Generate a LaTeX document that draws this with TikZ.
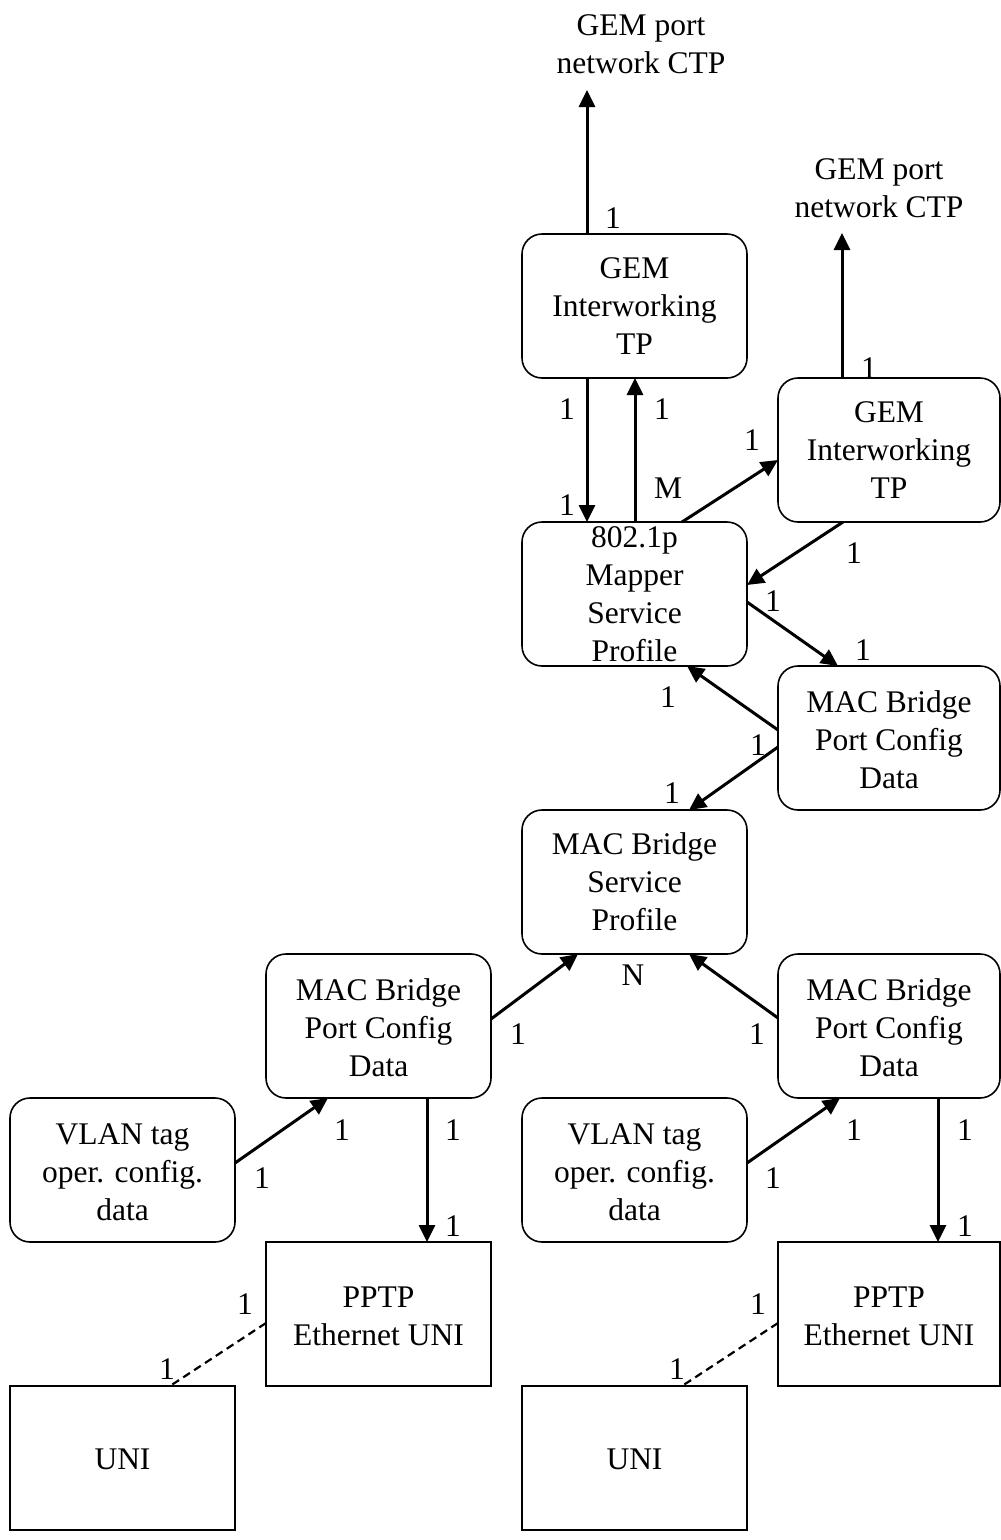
\documentclass[tikz,border=0pt]{standalone}
\usepackage{fontspec}
\setmainfont{Liberation Serif}
\usetikzlibrary{arrows.meta,calc}

\tikzset{
  boxbase/.style={draw, line width=1.6pt, inner sep=0pt, outer sep=0pt,
    minimum height=144pt},
  rbox/.style={boxbase, rounded corners=20pt, minimum width=225pt},
  rboxr/.style={boxbase, rounded corners=20pt, minimum width=222pt},
  sbox/.style={boxbase, minimum width=225pt},
  sboxr/.style={boxbase, minimum width=222pt},
  txt/.style={align=center, inner sep=0pt, font=\fontsize{31.5}{38}\selectfont},
  card/.style={inner sep=0pt, font=\fontsize{31.5}{38}\selectfont},
  conn/.style={line width=3pt, -{Triangle[length=17pt,width=16pt]}},
  link/.style={line width=2.2pt, dash pattern=on 8pt off 5pt},
}

\begin{document}
\begin{tikzpicture}[x=1pt,y=-1pt]
\useasboundingbox (0,0) rectangle (1001,1540);

% --- managed entities -------------------------------------------------
\node[rbox]  (gem1)   at (634.5,306)  {};
\node[rboxr] (gem2)   at (889,450)    {};
\node[rbox]  (mapper) at (634.5,594)  {};
\node[rboxr] (pcdT)   at (889,738)    {};
\node[rbox]  (mbsp)   at (634.5,882)  {};
\node[rbox]  (pcdL)   at (378.5,1026) {};
\node[rboxr] (pcdR)   at (889,1026)   {};
\node[rbox]  (vlanL)  at (122.5,1170) {};
\node[rbox]  (vlanR)  at (634.5,1170) {};
\node[sbox]  (pptpL)  at (378.5,1314) {};
\node[sboxr] (pptpR)  at (889,1314)   {};
\node[sbox]  (uniL)   at (122.5,1458) {};
\node[sbox]  (uniR)   at (634.5,1458) {};

% --- entity names -----------------------------------------------------
\node[txt] (gem1-t)   at (634.5,306)  {GEM\\Interworking\\TP};
\node[txt] (gem2-t)   at (889,450)    {GEM\\Interworking\\TP};
\node[txt] (mapper-t) at (634.5,594)  {802.1p\\Mapper\\Service\\Profile};
\node[txt] (pcdT-t)   at (889,740)    {MAC Bridge\\Port Config\\Data};
\node[txt] (mbsp-t)   at (634.5,882)  {MAC Bridge\\Service\\Profile};
\node[txt] (pcdL-t)   at (378.5,1028) {MAC Bridge\\Port Config\\Data};
\node[txt] (pcdR-t)   at (889,1028)   {MAC Bridge\\Port Config\\Data};
\node[txt] (vlanL-t)  at (122.5,1172) {VLAN tag\\oper. config.\\data};
\node[txt] (vlanR-t)  at (634.5,1172) {VLAN tag\\oper. config.\\data};
\node[txt] (pptpL-t)  at (378.5,1316) {PPTP\\Ethernet UNI};
\node[txt] (pptpR-t)  at (889,1316)   {PPTP\\Ethernet UNI};
\node[txt] (uniL-t)   at (122.5,1459) {UNI};
\node[txt] (uniR-t)   at (634.5,1459) {UNI};

% --- external CTPs ----------------------------------------------------
\node[txt] (ctp1) at (641,44.5)  {GEM port\\network CTP};
\node[txt] (ctp2) at (879,188.5) {GEM port\\network CTP};
\coordinate (ctp1in) at (587,90);
\coordinate (ctp2in) at (842,233);

% --- relationships ----------------------------------------------------
\draw[conn] ($(gem1.north west)+(65,0)$) -- (ctp1in);
\draw[conn] ($(gem2.north west)+(64,0)$) -- (ctp2in);
\draw[conn] ($(gem1.south west)+(65,0)$) -- ($(mapper.north west)+(65,0)$);
\draw[conn] ($(mapper.north west)+(113,0)$) -- ($(gem1.south west)+(113,0)$);
\draw[conn] ($(mapper.north west)+(160,0)$) -- ($(gem2.north west)+(0,82)$);
\draw[conn] ($(gem2.south west)+(65,0)$) -- ($(mapper.north east)+(0,63)$);
\draw[conn] ($(mapper.north east)+(0,80)$) -- ($(pcdT.north west)+(60,0)$);
\draw[conn] ($(pcdT.north west)+(0,64)$) -- ($(mapper.south west)+(165,0)$);
\draw[conn] ($(pcdT.north west)+(0,81)$) -- ($(mbsp.north west)+(167,0)$);
\draw[conn] ($(pcdL.north east)+(0,65)$) -- ($(mbsp.south west)+(56,0)$);
\draw[conn] ($(pcdR.north west)+(0,64)$) -- ($(mbsp.south west)+(167,0)$);
\draw[conn] ($(vlanL.north east)+(0,65)$) -- ($(pcdL.south west)+(62,0)$);
\draw[conn] ($(pcdL.south west)+(161,0)$) -- ($(pptpL.north west)+(161,0)$);
\draw[conn] ($(vlanR.north east)+(0,65)$) -- ($(pcdR.south west)+(62,0)$);
\draw[conn] ($(pcdR.south west)+(160,0)$) -- ($(pptpR.north west)+(160,0)$);
\draw[link] ($(pptpL.north west)+(0,81)$) -- ($(uniL.north west)+(160,0)$);
\draw[link] ($(pptpR.north west)+(0,81)$) -- ($(uniR.north west)+(160,0)$);

% --- cardinalities ----------------------------------------------------
\node[card] (c1)  at (613,218)  {1};
\node[card] (c2)  at (869,368)  {1};
\node[card] (c3)  at (567,409)  {1};
\node[card] (c4)  at (662,409)  {1};
\node[card] (c5)  at (752,440)  {1};
\node[card] (c6)  at (668,488)  {M};
\node[card] (c7)  at (567,505)  {1};
\node[card] (c8)  at (854,553)  {1};
\node[card] (c9)  at (773,601)  {1};
\node[card] (c10) at (863,650)  {1};
\node[card] (c11) at (668,697)  {1};
\node[card] (c12) at (758,745)  {1};
\node[card] (c13) at (672,793)  {1};
\node[card] (c14) at (633,975)  {N};
\node[card] (c15) at (518,1034) {1};
\node[card] (c16) at (757,1034) {1};
\node[card] (c17) at (342,1130) {1};
\node[card] (c18) at (453,1130) {1};
\node[card] (c19) at (854,1130) {1};
\node[card] (c20) at (965,1130) {1};
\node[card] (c21) at (262,1178) {1};
\node[card] (c22) at (773,1178) {1};
\node[card] (c23) at (453,1226) {1};
\node[card] (c24) at (965,1226) {1};
\node[card] (c25) at (245,1304) {1};
\node[card] (c26) at (758,1304) {1};
\node[card] (c27) at (167,1369) {1};
\node[card] (c28) at (677,1369) {1};
\end{tikzpicture}
\end{document}
